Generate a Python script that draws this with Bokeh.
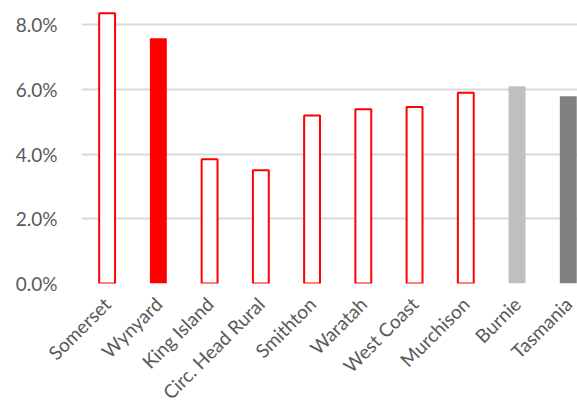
from bokeh.plotting import figure
from bokeh.models import Range1d, NumeralTickFormatter, ColumnDataSource, FixedTicker
from bokeh.embed import file_html
from bokeh.resources import INLINE
import math

categories = ["Somerset", "Wynyard", "King Island", "Circ. Head Rural", "Smithton",
              "Waratah", "West Coast", "Murchison", "Burnie", "Tasmania"]
values = [0.0836, 0.0759, 0.0384, 0.0350, 0.0520, 0.0539, 0.0546, 0.0590, 0.0610, 0.0579]
styles = ["outline", "red", "outline", "outline", "outline", "outline", "outline", "outline",
          "lightgrey", "darkgrey"]

fill_map = {"outline": "#FFFFFF", "red": "#FF0000", "lightgrey": "#BFBFBF", "darkgrey": "#808080"}

positions = list(range(len(categories)))
outline_idx = [i for i, s in enumerate(styles) if s == "outline"]
solid_idx = [i for i, s in enumerate(styles) if s != "outline"]

src_out = ColumnDataSource(dict(
    x=[positions[i] for i in outline_idx],
    top=[values[i] for i in outline_idx],
))
src_solid = ColumnDataSource(dict(
    x=[positions[i] for i in solid_idx],
    top=[values[i] for i in solid_idx],
    color=[fill_map[styles[i]] for i in solid_idx],
))

p = figure(width=577, height=415, output_backend="svg", toolbar_location=None,
           x_range=Range1d(-0.5, 9.18),
           y_range=Range1d(0, 0.086),
           min_border_left=81, min_border_right=0, min_border_top=5, min_border_bottom=132)
p.outline_line_color = None

p.vbar(x="x", top="top", width=0.31, source=src_out, fill_color="#FFFFFF",
       line_color="#FF0000", line_width=2)
p.vbar(x="x", top="top", width=0.33, source=src_solid, fill_color="color",
       line_color=None)

p.xgrid.grid_line_color = None
p.ygrid.grid_line_color = "#D9D9D9"
p.ygrid.grid_line_width = 2
p.ygrid.level = "underlay"

p.yaxis.ticker = [0, 0.02, 0.04, 0.06, 0.08]
p.yaxis.formatter = NumeralTickFormatter(format="0.0%")
p.yaxis.axis_line_color = None
p.yaxis.major_tick_line_color = None
p.yaxis.minor_tick_line_color = None
p.yaxis.major_label_standoff = 18
p.yaxis.major_label_text_font = "Lato"
p.yaxis.major_label_text_font_size = "19px"
p.yaxis.major_label_text_color = "#595959"

p.xaxis.ticker = FixedTicker(ticks=positions)
p.xaxis.major_label_overrides = {i: c for i, c in zip(positions, categories)}
p.xaxis.axis_line_color = None
p.xaxis.major_tick_line_color = None
p.xaxis.minor_tick_line_color = None
p.xaxis.major_label_orientation = math.pi / 4
p.xaxis.major_label_standoff = 11
p.xaxis.major_label_text_font = "Lato"
p.xaxis.major_label_text_font_size = "19px"
p.xaxis.major_label_text_color = "#595959"

open("out.html", "w").write(file_html(p, INLINE))
